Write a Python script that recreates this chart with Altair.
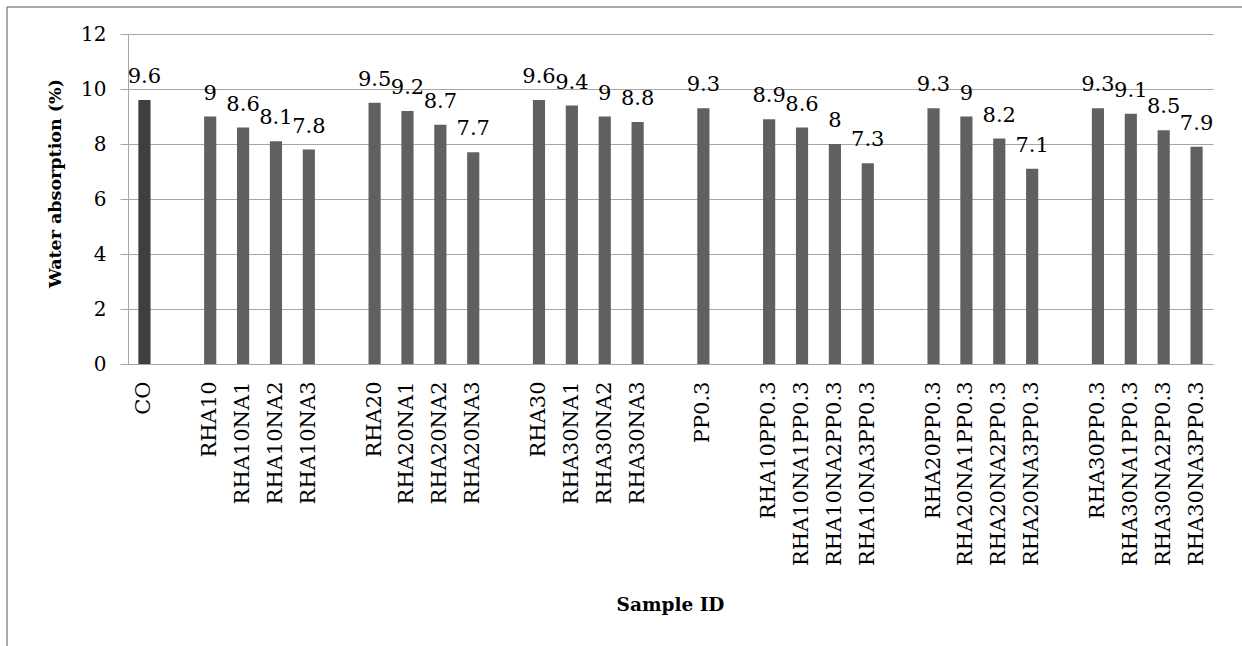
import altair as alt
import pandas as pd

samples = ["CO",
           "RHA10", "RHA10NA1", "RHA10NA2", "RHA10NA3",
           "RHA20", "RHA20NA1", "RHA20NA2", "RHA20NA3",
           "RHA30", "RHA30NA1", "RHA30NA2", "RHA30NA3",
           "PP0.3",
           "RHA10PP0.3", "RHA10NA1PP0.3", "RHA10NA2PP0.3", "RHA10NA3PP0.3",
           "RHA20PP0.3", "RHA20NA1PP0.3", "RHA20NA2PP0.3", "RHA20NA3PP0.3",
           "RHA30PP0.3", "RHA30NA1PP0.3", "RHA30NA2PP0.3", "RHA30NA3PP0.3"]
absorption = [9.6,
              9, 8.6, 8.1, 7.8,
              9.5, 9.2, 8.7, 7.7,
              9.6, 9.4, 9, 8.8,
              9.3,
              8.9, 8.6, 8, 7.3,
              9.3, 9, 8.2, 7.1,
              9.3, 9.1, 8.5, 7.9]
group_sizes = [1, 4, 4, 4, 1, 4, 4, 4]
y_ticks = [0, 2, 4, 6, 8, 10, 12]

# category order with an empty slot between groups
domain = []
i = 0
for g, n in enumerate(group_sizes):
    if g > 0:
        domain.append(" " * g)
    domain.extend(samples[i:i + n])
    i += n

df = pd.DataFrame({"sample": samples, "value": absorption,
                   "label": [f"{v:g}" for v in absorption]})

FONT = "DejaVu Serif"
GRID = "#a6a6a6"

x_enc = alt.X("sample:N", sort=domain,
              scale=alt.Scale(domain=domain, paddingInner=0.63, paddingOuter=0.315),
              axis=alt.Axis(title="Sample ID", labelAngle=270, labelFont=FONT,
                            labelFontSize=21, labelColor="#000000", labelPadding=17,
                            labelOverlap=False, labelLimit=400, ticks=False,
                            domainColor=GRID, titleFont=FONT, titleFontSize=18.5,
                            titleFontWeight="bold", titleColor="#000000",
                            titleBaseline="alphabetic", titleY=246, titleX=542))
y_enc = alt.Y("value:Q",
              scale=alt.Scale(domain=[0, 12], nice=False),
              axis=alt.Axis(values=y_ticks, title="Water absorption (%)", grid=True,
                            gridColor=GRID, domainColor=GRID, tickColor=GRID,
                            tickSize=8, labelFont=FONT, labelFontSize=20,
                            labelColor="#000000", labelPadding=14,
                            titleFont=FONT, titleFontSize=17.5, titleFontWeight="bold",
                            titleColor="#000000", titleAngle=270, titleX=-73,
                            titleY=149, titleBaseline="middle", titleAlign="center"))

bars = alt.Chart(df).mark_bar().encode(
    x=x_enc, y=y_enc,
    color=alt.condition(alt.datum.sample == "CO", alt.value("#3f3f3f"), alt.value("#606060")),
)
labels = alt.Chart(df).mark_text(font=FONT, fontSize=21, color="#000000",
                                 baseline="alphabetic", dy=-17).encode(
    x=alt.X("sample:N", sort=domain), y="value:Q", text="label:N")

frame = alt.Data(values=[{"a": 1}])
top_line = alt.Chart(frame).mark_rule(color="#8c8c8c", strokeWidth=1.5).encode(
    x=alt.value(-121), x2=alt.value(1242 - 128), y=alt.value(-27))
left_line = alt.Chart(frame).mark_rule(color="#8c8c8c", strokeWidth=1.5).encode(
    x=alt.value(-121), y=alt.value(-27), y2=alt.value(646 - 34))

chart = alt.layer(bars, labels, top_line, left_line).properties(
    width=1085, height=330,
    padding={"left": 128, "top": 34, "right": 29, "bottom": 282},
    autosize="none",
    background="#ffffff",
).configure_view(strokeWidth=0)

chart.save("out.html", embed_options={"renderer": "svg", "actions": False})
